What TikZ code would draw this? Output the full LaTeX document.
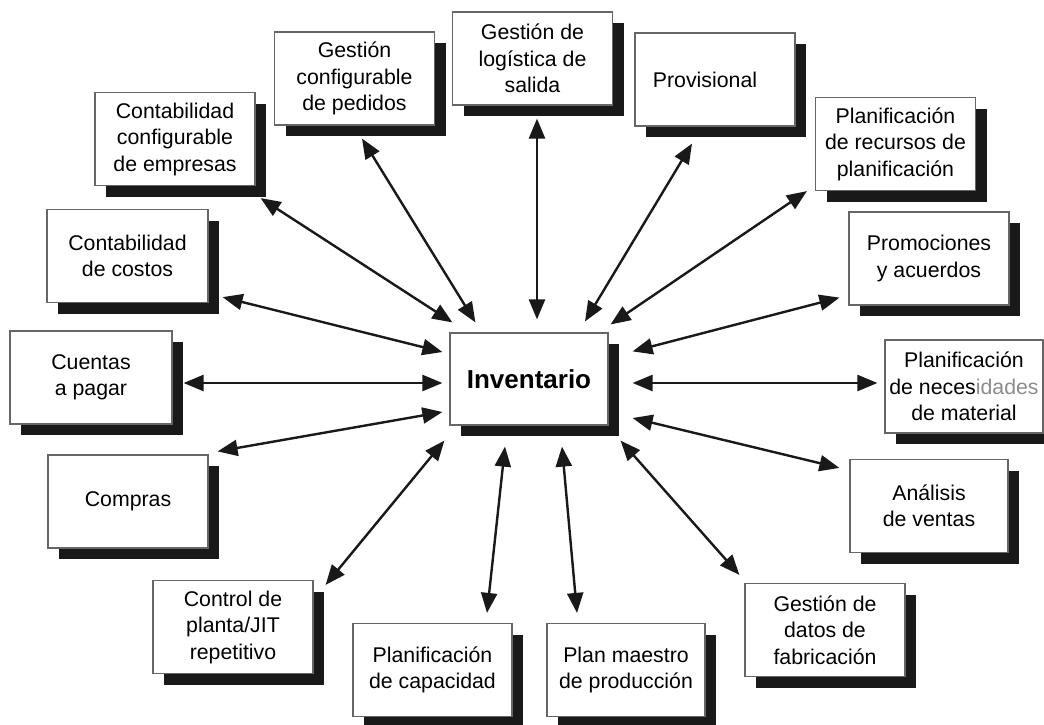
\documentclass[tikz,border=0pt]{standalone}
\usepackage{fontspec}
\setmainfont{Liberation Sans}
\usetikzlibrary{shadows,arrows.meta,calc}

\tikzset{
  module/.style={
    draw=black!60, line width=1.2pt, fill=white,
    minimum width=160pt, minimum height=93pt, inner sep=2pt,
    align=center,
    font=\fontsize{21.3}{26.5}\selectfont,
    drop shadow={shadow xshift=11pt, shadow yshift=-11pt, fill=black!90, opacity=1}
  },
  hub/.style={module, minimum width=158pt, minimum height=92pt,
    font=\fontsize{26}{30}\selectfont\bfseries},
  conn/.style={line width=2.4pt, black!90,
    {Triangle[length=20pt,width=16pt]}-{Triangle[length=20pt,width=16pt]}}
}

\begin{document}
\begin{tikzpicture}[x=1pt, y=-1pt]
  \fill[white] (0,0) rectangle (1044,724);
  \useasboundingbox (0,0) rectangle (1044,724);

  % central module
  \node[hub] (inv) at (529,379) {Inventario};

  % surrounding modules, clockwise from the upper left
  \node[module] (cce) at (175,139)   {Contabilidad\\configurable\\de empresas};
  \node[module] (gcp) at (354.5,78.5) {Gestión\\configurable\\de pedidos};
  \node[module] (gls) at (532.5,58.5) {Gestión de\\logística de\\salida};
  \node[module, align=left] (pro) at (715,79.5) {Provisional\kern20pt};
  \node[module] (prp) at (895.5,144) {Planificación\\de recursos de\\planificación};
  \node[module] (pya) at (929,258.5) {Promociones\\y acuerdos};
  \node[module, minimum width=158pt] (pnm) at (964,386.5)
    {Planificación\\de neces{\color{black!45}idades}\\de material};
  \node[module, minimum width=158pt] (ave) at (929,506) {Análisis\\de ventas};
  \node[module] (gdf) at (825,630)   {Gestión de\\datos de\\fabricación};
  \node[module, minimum width=158pt] (pma) at (626,670) {Plan maestro\\de producción};
  \node[module, minimum width=159pt] (pca) at (432.5,670) {Planificación\\de capacidad};
  \node[module] (ctl) at (233,627)   {Control de\\planta/JIT\\repetitivo};
  \node[module] (com) at (128,501.5) {Compras};
  \node[module, minimum width=162pt] (cpa) at (91,377.5) {Cuentas\\a pagar};
  \node[module, minimum width=161pt] (cco) at (127.5,256) {Contabilidad\\de costos};

  % two-way links between the hub and each module
  \draw[conn] ($(cce.south east)+(5,12)$)  -- ($(inv.north west)+(3,-10)$);
  \draw[conn] ($(gcp.south)+(7.5,13)$)     -- ($(inv.north west)+(26,-10)$);
  \draw[conn] ($(gls.south)+(4.5,13)$)     -- ($(inv.north)+(8,-13)$);
  \draw[conn] ($(pro.south)+(-23,17)$)     -- ($(inv.north)+(56,-11)$);
  \draw[conn] ($(prp.south west)+(-8,0)$)  -- ($(inv.north east)+(2,-8)$);
  \draw[conn] ($(pya.south west)+(-9,-8)$) -- ($(inv.north east)+(24,19)$);
  \draw[conn] ($(pnm.west)+(-7,-3.5)$)     -- ($(inv.east)+(24,4)$);
  \draw[conn] ($(ave.north west)+(-10,9)$) -- ($(inv.east)+(24,39)$);
  \draw[conn] ($(gdf.north west)+(-5,-8)$) -- ($(inv.south east)+(12,15)$);
  \draw[conn] ($(pma.north)+(-49,-10)$)    -- ($(inv.south)+(33,21)$);
  \draw[conn] ($(pca.north)+(54.5,-10)$)   -- ($(inv.south)+(-24,21)$);
  \draw[conn] ($(ctl.north east)+(12,5)$)  -- ($(inv.south west)+(-5,15)$);
  \draw[conn] ($(com.north east)+(9,-3)$)  -- ($(inv.west)+(-7,33)$);
  \draw[conn] ($(cpa.east)+(11,5.5)$)      -- ($(inv.west)+(-7,4)$);
  \draw[conn] ($(cco.south east)+(14,-6)$) -- ($(inv.west)+(-7,-27)$);
\end{tikzpicture}
\end{document}
